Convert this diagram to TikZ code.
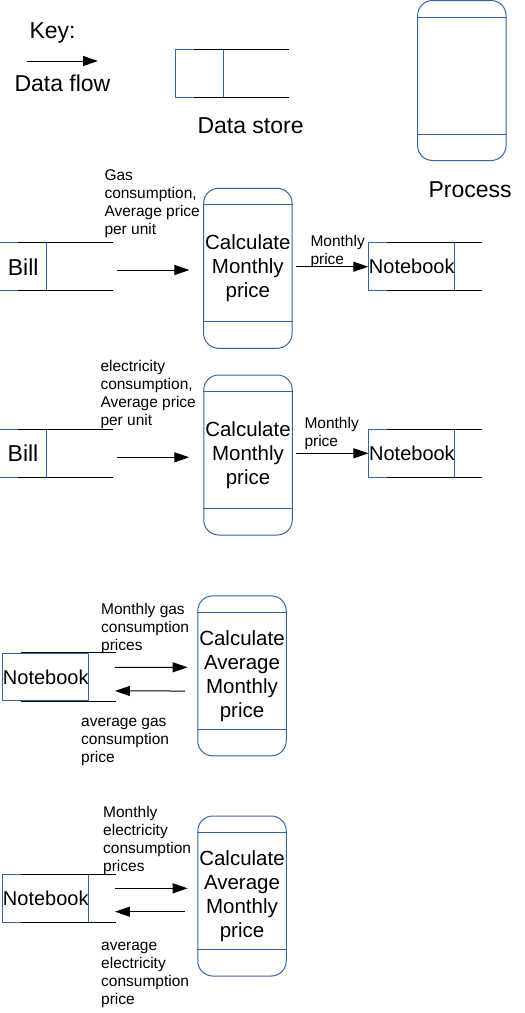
\documentclass[tikz,border=0pt]{standalone}
\usepackage{fontspec}
\setmainfont{Liberation Sans}
\usetikzlibrary{arrows.meta,positioning}
\definecolor{dfdblue}{RGB}{52,101,164}
\tikzset{
    flow/.style={-{Triangle[length=15pt,width=10pt]}},
    proc/.style={draw=dfdblue, rounded corners=15pt, minimum width=88.5pt,
        minimum height=160pt, inner sep=0pt, align=center,
        font=\fontsize{20.5}{24}\selectfont},
    store/.style={draw=dfdblue, minimum width=86pt, minimum height=47.5pt,
        inner sep=0pt, font=\fontsize{20}{24}\selectfont},
    billstore/.style={store, minimum width=47.5pt, font=\fontsize{23}{27}\selectfont},
    lbl/.style={anchor=north west, inner sep=0pt, align=left,
        font=\fontsize{15.5}{18}\selectfont},
    keytext/.style={anchor=base west, inner sep=0pt, font=\fontsize{23}{27}\selectfont}
}

\begin{document}
\begin{tikzpicture}[x=1pt, y=-1pt, line width=1pt]
    \useasboundingbox (0,0) rectangle (525,1013);

    % Key
    \node[keytext] (keylbl) at (29,38.5) {Key:};
    \coordinate (flowA) at (27,61);
    \coordinate (flowB) at (98,61);
    \draw[flow] (flowA) -- (flowB);
    \node[keytext] (flowlbl) at (14,91) {Data flow};
    \node[billstore] (keystore) at (199.5,73.3) {};
    \node[keytext] (storelbl) at (197,133.5) {Data store};
    \node[proc] (keyproc) at (461.85,80.5) {};
    \node[keytext] (proclbl) at (428,197) {Process};

    % Gas monthly price
    \node[proc] (calc1) at (247.85,268.3) {Calculate\\Monthly\\price};
    \node[billstore] (bill1) [left = 155.7pt of calc1, yshift=1.6pt] {Bill};
    \node[store] (note1) [right = 75.7pt of calc1, yshift=1.6pt] {Notebook};
    \node[lbl] (gasin) at (104,169) {Gas\\consumption,\\Average price\\per unit};
    \node[lbl] (gasout) at (310,235) {Monthly\\price};

    % Electricity monthly price
    \node[proc] (calc2) at (248,455) {Calculate\\Monthly\\price};
    \node[billstore] (bill2) [left = 156pt of calc2, yshift=1.7pt] {Bill};
    \node[store] (note2) [right = 75.7pt of calc2, yshift=1.7pt] {Notebook};
    \node[lbl] (elin) at (100,360) {electricity\\consumption,\\Average price\\per unit};
    \node[lbl] (elout) at (304,417) {Monthly\\price};

    % Gas average
    \node[proc] (calc3) at (242,675.85) {Calculate\\Average\\Monthly\\price};
    \node[store] (note3) [left = 108pt of calc3, yshift=-1.3pt] {Notebook};
    \node[lbl] (avgasin) at (100.7,603) {Monthly gas\\consumption\\prices};
    \node[lbl] (avgasout) at (80.7,718) {average gas\\consumption\\price};

    % Electricity average
    \node[proc] (calc4) at (242,896) {Calculate\\Average\\Monthly\\price};
    \node[store] (note4) [left = 108pt of calc4, yshift=-2.3pt] {Notebook};
    \node[lbl] (avelin) at (102.7,806) {Monthly\\electricity\\consumption\\prices};
    \node[lbl] (avelout) at (100.7,942) {average\\electricity\\consumption\\price};

    % open sides of the data stores
    \foreach \s in {keystore,bill1,note1,bill2,note2,note3,note4}
        \draw ([xshift=19pt]\s.north west) -- ++(95,0)
              ([xshift=19pt]\s.south west) -- ++(95,0);

    % process bands
    \foreach \p in {keyproc,calc1,calc2,calc3,calc4}
        \draw[dfdblue] ([yshift=-17pt]\p.north west) -- ([yshift=-17pt]\p.north east)
                       ([yshift=27pt]\p.south west) -- ([yshift=27pt]\p.south east);

    % Data flows
    \path[flow] ([xshift=69.3pt,yshift=-3.3pt]bill1.east) edge ([xshift=-13.7pt,yshift=-1.7pt]calc1.west);
    \path[flow] ([xshift=3pt]calc1.east |- note1.west) edge (note1.west);
    \path[flow] ([xshift=69.3pt,yshift=-4pt]bill2.east) edge ([xshift=-14pt,yshift=-2.3pt]calc2.west);
    \path[flow] ([xshift=3pt]calc2.east |- note2.west) edge (note2.west);
    \path[flow] ([xshift=25.7pt,yshift=9.9pt]note3.east) edge ([xshift=-9.6pt,yshift=8.55pt]calc3.west);
    \path[flow] ([xshift=-12.3pt,yshift=-15.15pt]calc3.west) edge ([xshift=25.7pt,yshift=-13.8pt]note3.east);
    \path[flow] ([xshift=25.7pt,yshift=10pt]note4.east) edge ([xshift=-9.6pt,yshift=7.7pt]calc4.west);
    \path[flow] ([xshift=-12.3pt,yshift=-15.7pt]calc4.west) edge ([xshift=25.7pt,yshift=-13.4pt]note4.east);

\end{tikzpicture}
\end{document}
